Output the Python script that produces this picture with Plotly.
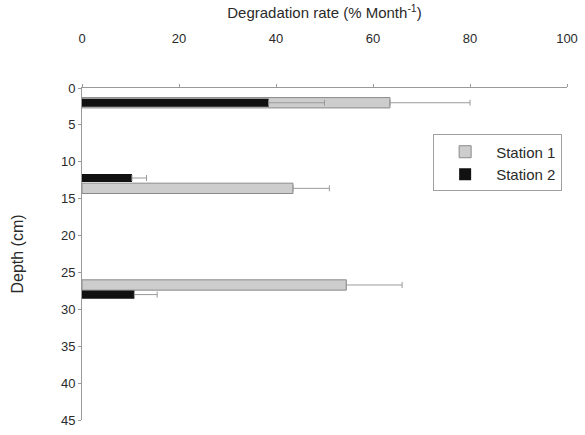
import plotly.graph_objects as go

# Data
station1_depth = [2.0, 13.6, 26.7]
station1_rate = [63.5, 43.5, 54.5]
station1_err = [16.5, 7.5, 11.5]

station2_depth = [2.0, 12.2, 28.0]
station2_rate = [38.5, 10.3, 10.8]
station2_err = [11.5, 3.0, 4.7]

x_ticks = [0, 20, 40, 60, 80, 100]
y_ticks = [0, 5, 10, 15, 20, 25, 30, 35, 40, 45]

font_family = "Liberation Sans, Arial, sans-serif"
text_color = "#2a2a2a"
axis_color = "#9a9a9a"

fig = go.Figure()
fig.add_trace(go.Bar(
    name="Station 1", orientation="h",
    x=station1_rate, y=station1_depth, width=1.4,
    marker=dict(color="#cdcdcd", line=dict(color="#8a8a8a", width=1)),
    error_x=dict(type="data", symmetric=False, array=station1_err,
                 arrayminus=[0] * len(station1_err),
                 color="#9a9a9a", thickness=1, width=3),
))
fig.add_trace(go.Bar(
    name="Station 2", orientation="h",
    x=station2_rate, y=station2_depth, width=1.1,
    marker=dict(color="#111111", line=dict(color="#111111", width=0)),
    error_x=dict(type="data", symmetric=False, array=station2_err,
                 arrayminus=[0] * len(station2_err),
                 color="#9a9a9a", thickness=1, width=3),
))

fig.update_layout(
    width=585, height=435,
    margin=dict(l=82, r=18, t=88, b=15),
    paper_bgcolor="white", plot_bgcolor="white",
    barmode="overlay",
    font=dict(family=font_family, size=13, color=text_color),
    showlegend=True,
    legend=dict(
        x=0.724, y=0.86, xanchor="left", yanchor="top",
        bordercolor="#a0a0a0", borderwidth=1, bgcolor="white",
        font=dict(size=15, color=text_color),
        itemwidth=52,
        tracegroupgap=0,
    ),
    xaxis=dict(
        side="top", range=[0, 100], tickvals=x_ticks,
        automargin=False,
        showline=True, linecolor=axis_color, linewidth=1,
        ticks="outside", ticklen=3, tickcolor=axis_color,
        showgrid=False, zeroline=False,
        ticklabelstandoff=36,
        tickfont=dict(size=13),
        title=dict(text="Degradation rate (% Month<sup>-1</sup>)", font=dict(size=15), standoff=8),
    ),
    yaxis=dict(
        range=[45, 0], tickvals=y_ticks,
        automargin=False,
        showline=True, linecolor=axis_color, linewidth=1,
        ticks="outside", ticklen=3, tickcolor=axis_color,
        showgrid=False, zeroline=False,
        tickfont=dict(size=13),
        title=dict(text="Depth (cm)", font=dict(size=16), standoff=33),
    ),
)

fig.write_html("out.html", config={"displayModeBar": False},
               post_script="document.body.style.margin='0';")
